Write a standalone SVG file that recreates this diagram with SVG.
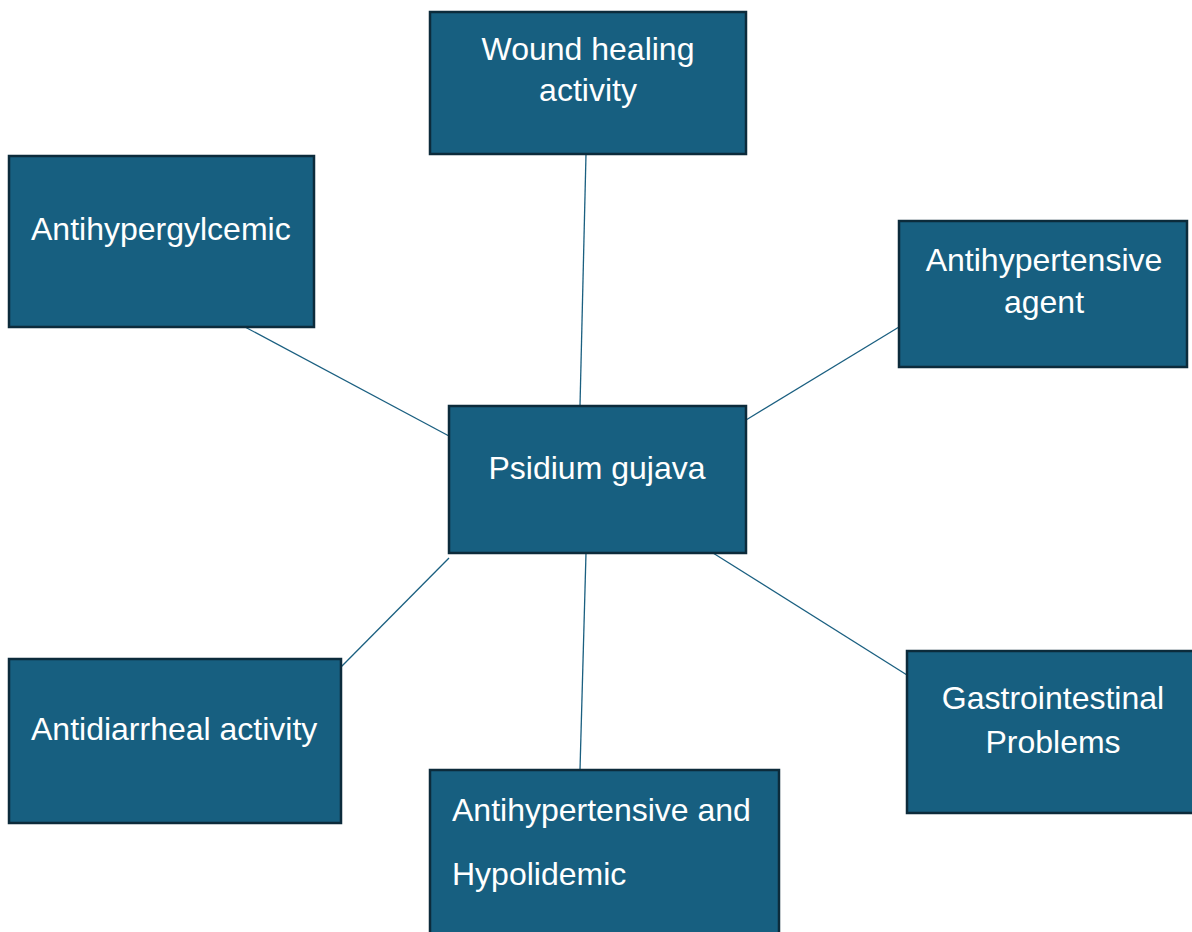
<svg xmlns="http://www.w3.org/2000/svg" width="1192" height="932" viewBox="0 0 1192 932">
<style>
.box{fill:#175f80;stroke:#0c2b3b;stroke-width:2.5}
.t{font-family:"Liberation Sans",Arial,sans-serif;font-size:32px;fill:#ffffff}
.c{text-anchor:middle}
.ln{stroke:#1a5f80;stroke-width:1.3;fill:none}
</style>
<rect width="1192" height="932" fill="#ffffff"/>
<g id="connectors">
<line class="ln" x1="586" y1="154" x2="580" y2="406"/>
<line class="ln" x1="245" y1="327" x2="449" y2="436"/>
<line class="ln" x1="899" y1="327" x2="746" y2="420"/>
<line class="ln" x1="341" y1="667" x2="449" y2="558"/>
<line class="ln" x1="580" y1="770" x2="586" y2="553"/>
<line class="ln" x1="907" y1="675" x2="713" y2="553"/>
</g>
<g id="wound">
<rect class="box" x="430" y="12" width="316" height="142"/>
<text class="t c" x="588" y="60">Wound healing</text>
<text class="t c" x="588" y="101">activity</text>
</g>
<g id="antihypergylcemic">
<rect class="box" x="9" y="156" width="305" height="171"/>
<text class="t" x="31" y="240">Antihypergylcemic</text>
</g>
<g id="antihypertensive-agent">
<rect class="box" x="899" y="221" width="288" height="146"/>
<text class="t c" x="1044" y="271">Antihypertensive</text>
<text class="t c" x="1044" y="313">agent</text>
</g>
<g id="psidium">
<rect class="box" x="449" y="406" width="297" height="147"/>
<text class="t c" x="597" y="479">Psidium gujava</text>
</g>
<g id="antidiarrheal">
<rect class="box" x="9" y="659" width="332" height="164"/>
<text class="t" x="31" y="740">Antidiarrheal activity</text>
</g>
<g id="hypolidemic">
<rect class="box" x="430" y="770" width="349" height="170"/>
<text class="t" x="452" y="821">Antihypertensive and</text>
<text class="t" x="452" y="885">Hypolidemic</text>
</g>
<g id="gastro">
<rect class="box" x="907" y="651" width="290" height="162"/>
<text class="t c" x="1053" y="709">Gastrointestinal</text>
<text class="t c" x="1053" y="753">Problems</text>
</g>
</svg>
